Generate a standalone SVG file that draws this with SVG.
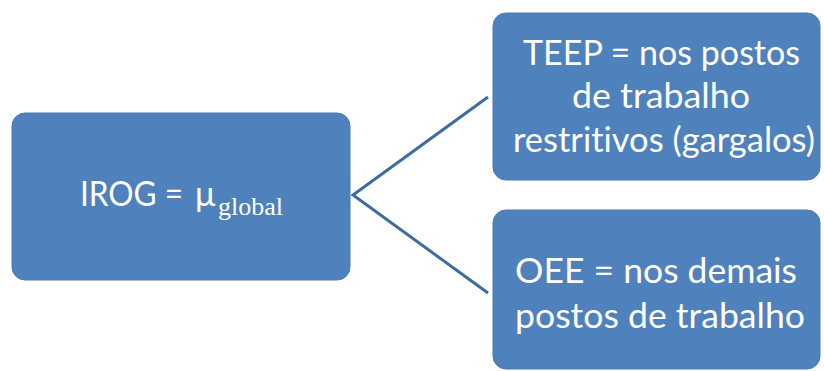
<svg xmlns="http://www.w3.org/2000/svg" width="824" height="371" viewBox="0 0 824 371">
  <style>
    .box { fill: #4f81bd; stroke: #4a7ab5; stroke-width: 1; }
    .lbl { fill: #ffffff; font-family: Lato, "Open Sans", "Liberation Sans", sans-serif; font-size: 34px; font-variant-ligatures: none; }
    .serif { font-family: "Liberation Serif", "DejaVu Serif", serif; }
    .sub { font-size: 26px; }
    .edge { fill: none; stroke: #3e6c9e; stroke-width: 3; stroke-linejoin: miter; }
  </style>
  <rect width="824" height="371" fill="#ffffff"/>

  <g id="connectors">
    <polyline class="edge" points="488,97 353,195 488,293"/>
  </g>

  <g id="irog">
    <rect class="box" x="12" y="113" width="338" height="167" rx="13"/>
    <text class="lbl" x="80" y="206" textLength="103" lengthAdjust="spacingAndGlyphs">IROG =</text>
    <text class="lbl" x="195" y="206" font-size="38">μ</text>
    <text class="lbl serif sub" x="218" y="215" textLength="65" lengthAdjust="spacingAndGlyphs">global</text>
  </g>

  <g id="teep">
    <rect class="box" x="493" y="13" width="327" height="167" rx="13"/>
    <text class="lbl" x="523" y="65" textLength="277" lengthAdjust="spacingAndGlyphs">TEEP = nos postos</text>
    <text class="lbl" x="572" y="108" textLength="178" lengthAdjust="spacingAndGlyphs">de trabalho</text>
    <text class="lbl" x="513" y="152" textLength="302" lengthAdjust="spacingAndGlyphs">restritivos (gargalos)</text>
  </g>

  <g id="oee">
    <rect class="box" x="493" y="210" width="327" height="159" rx="13"/>
    <text class="lbl" x="515" y="283" textLength="282" lengthAdjust="spacingAndGlyphs">OEE = nos demais</text>
    <text class="lbl" x="515" y="328" textLength="290" lengthAdjust="spacingAndGlyphs">postos de trabalho</text>
  </g>
</svg>
